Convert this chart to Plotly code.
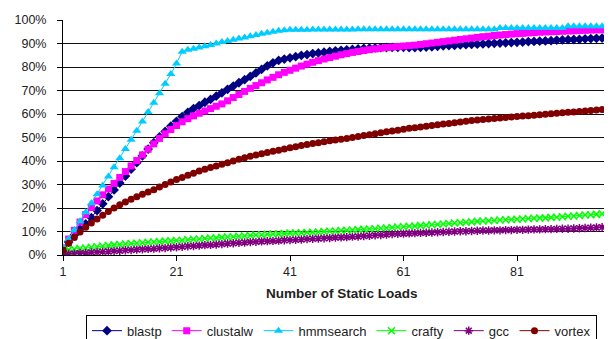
import plotly.graph_objects as go

loads = list(range(1, 101))

blastp = [2.5, 5.5, 8.5, 11.0, 13.2, 15.9, 18.9, 21.8, 24.8, 27.7,
          30.6, 33.6, 36.5, 39.3, 42.2, 45.1, 47.8, 50.3, 52.6, 54.8,
          56.9, 58.9, 60.7, 62.3, 63.6, 65.0, 66.2, 67.6, 69.0, 70.5,
          71.9, 73.3, 74.6, 76.0, 77.5, 79.0, 80.5, 81.8, 82.8, 83.4,
          83.9, 84.4, 84.9, 85.3, 85.7, 86.0, 86.3, 86.6, 86.9, 87.1,
          87.3, 87.5, 87.7, 87.9, 88.0, 88.1, 88.2, 88.3, 88.4, 88.4,
          88.4, 88.3, 88.3, 88.4, 88.5, 88.6, 88.8, 89.0, 89.1, 89.2,
          89.4, 89.5, 89.6, 89.7, 89.8, 90.0, 90.1, 90.2, 90.3, 90.4,
          90.5, 90.6, 90.8, 90.9, 91.0, 91.1, 91.2, 91.4, 91.5, 91.6,
          91.7, 91.8, 92.0, 92.1, 92.2, 92.3, 92.4, 92.5, 92.6, 92.7]

clustalw = [3.0, 6.8, 10.5, 14.0, 17.2, 20.2, 23.0, 25.6, 28.1, 30.5,
            33.0, 35.5, 37.9, 40.2, 42.6, 45.0, 47.3, 49.6, 51.6, 53.4,
            55.1, 56.7, 58.0, 59.2, 60.3, 61.3, 62.3, 63.3, 64.3, 65.6,
            67.0, 68.3, 69.6, 70.9, 72.1, 73.3, 74.5, 75.6, 76.7, 77.7,
            78.6, 79.5, 80.4, 81.2, 82.0, 82.7, 83.4, 84.0, 84.6, 85.2,
            85.7, 86.2, 86.6, 87.0, 87.4, 87.7, 88.0, 88.3, 88.5, 88.7,
            88.9, 89.1, 89.3, 89.6, 89.9, 90.2, 90.5, 90.8, 91.1, 91.4,
            91.7, 92.0, 92.3, 92.6, 92.9, 93.1, 93.4, 93.6, 93.8, 94.0,
            94.2, 94.3, 94.5, 94.6, 94.8, 94.9, 95.0, 95.1, 95.2, 95.3,
            95.4, 95.5, 95.6, 95.7, 95.8, 95.8, 95.9, 96.0, 96.0, 96.1]

hmmsearch = [3.0, 6.8, 10.6, 14.4, 18.2, 22.0, 25.8, 29.6, 33.4, 37.3,
             41.2, 45.1, 49.0, 52.9, 56.8, 60.8, 64.8, 68.8, 72.9, 77.0,
             81.5, 86.5, 87.3, 87.8, 88.3, 88.8, 89.4, 90.0, 90.6, 91.1,
             91.6, 92.1, 92.6, 93.1, 93.6, 94.1, 94.6, 95.0, 95.4, 95.6,
             95.8, 95.9, 95.9, 95.9, 96.0, 96.0, 96.0, 96.0, 96.0, 96.0,
             96.0, 96.0, 96.1, 96.1, 96.1, 96.1, 96.1, 96.1, 96.1, 96.1,
             96.1, 96.1, 96.1, 96.1, 96.1, 96.1, 96.1, 96.1, 96.1, 96.1,
             96.1, 96.1, 96.1, 96.1, 96.1, 96.1, 96.1, 96.6, 96.6, 96.6,
             96.6, 96.6, 96.6, 96.6, 96.6, 96.6, 96.6, 96.6, 96.6, 97.3,
             97.3, 97.3, 97.3, 97.3, 97.3, 97.3, 97.3, 97.4, 97.4, 97.4]

crafty = [2.2, 2.3, 2.5, 2.8, 3.0, 3.3, 3.5, 3.8, 4.0, 4.3,
          4.5, 4.7, 4.9, 5.0, 5.2, 5.4, 5.5, 5.7, 5.9, 6.0,
          6.2, 6.3, 6.5, 6.7, 6.8, 7.0, 7.2, 7.3, 7.5, 7.7,
          7.8, 8.0, 8.1, 8.3, 8.5, 8.6, 8.8, 8.9, 9.0, 9.1,
          9.3, 9.4, 9.5, 9.6, 9.7, 9.8, 10.0, 10.1, 10.2, 10.4,
          10.5, 10.6, 10.8, 10.9, 11.1, 11.2, 11.4, 11.5, 11.7, 11.9,
          12.0, 12.2, 12.3, 12.5, 12.7, 12.9, 13.0, 13.2, 13.4, 13.6,
          13.7, 13.9, 14.1, 14.3, 14.5, 14.6, 14.7, 14.9, 15.0, 15.1,
          15.2, 15.3, 15.5, 15.6, 15.7, 15.8, 16.0, 16.1, 16.3, 16.5,
          16.6, 16.8, 17.0, 17.1, 17.3, 17.5, 17.7, 17.9, 18.0, 18.2]

gcc = [0.3, 0.5, 0.6, 0.8, 0.9, 1.1, 1.2, 1.4, 1.5, 1.7,
       1.8, 2.0, 2.1, 2.3, 2.4, 2.6, 2.7, 2.9, 3.0, 3.2,
       3.3, 3.5, 3.7, 3.8, 4.0, 4.2, 4.3, 4.5, 4.7, 4.9,
       5.0, 5.2, 5.3, 5.5, 5.6, 5.8, 5.9, 6.0, 6.1, 6.3,
       6.4, 6.5, 6.6, 6.8, 6.9, 7.0, 7.1, 7.2, 7.4, 7.5,
       7.6, 7.8, 7.9, 8.1, 8.2, 8.4, 8.5, 8.7, 8.9, 9.0,
       9.1, 9.2, 9.3, 9.4, 9.5, 9.6, 9.7, 9.8, 9.9, 10.0,
       10.1, 10.1, 10.2, 10.3, 10.4, 10.4, 10.5, 10.5, 10.6, 10.6,
       10.7, 10.7, 10.8, 10.9, 10.9, 11.0, 11.0, 11.1, 11.2, 11.2,
       11.3, 11.4, 11.5, 11.6, 11.7, 11.8, 11.9, 12.0, 12.0, 12.1]

vortex = [2.0, 5.0, 7.5, 9.8, 11.8, 13.6, 15.3, 16.9, 18.5, 20.0,
          21.4, 22.6, 23.7, 24.8, 25.8, 26.8, 27.8, 28.9, 30.0, 31.1,
          32.1, 33.0, 33.9, 34.8, 35.7, 36.5, 37.2, 37.9, 38.6, 39.3,
          40.0, 40.7, 41.4, 42.0, 42.6, 43.1, 43.6, 44.1, 44.6, 45.1,
          45.6, 46.1, 46.6, 47.0, 47.4, 47.8, 48.2, 48.6, 48.9, 49.3,
          49.6, 50.0, 50.4, 50.8, 51.2, 51.6, 52.0, 52.4, 52.8, 53.1,
          53.5, 53.9, 54.2, 54.5, 54.8, 55.1, 55.4, 55.7, 56.0, 56.3,
          56.6, 56.9, 57.2, 57.4, 57.7, 57.9, 58.1, 58.3, 58.5, 58.7,
          58.9, 59.1, 59.3, 59.5, 59.7, 59.9, 60.1, 60.3, 60.5, 60.7,
          60.9, 61.1, 61.3, 61.5, 61.7, 61.9, 62.1, 62.3, 62.5, 62.7]

x_ticks = [1, 21, 41, 61, 81]
y_ticks = [0, 10, 20, 30, 40, 50, 60, 70, 80, 90, 100]
y_labels = [f"{v}%" for v in y_ticks]

series = [
    ("blastp", blastp, "#000080", "diamond", 7.5),
    ("clustalw", clustalw, "#FF00FF", "square", 7),
    ("hmmsearch", hmmsearch, "#00CCFF", "triangle-up", 8),
    ("crafty", crafty, "#00FF00", "x-thin-open", 7),
    ("gcc", gcc, "#800080", "asterisk-open", 7),
    ("vortex", vortex, "#800000", "circle", 7),
]

fig = go.Figure()
for name, vals, color, sym, size in series:
    marker = dict(symbol=sym, size=size, color=color)
    if sym.endswith("-open"):
        marker["line"] = dict(color=color, width=1.5)
    else:
        marker["line"] = dict(width=0)
    fig.add_trace(go.Scatter(
        x=loads, y=vals, name=name, mode="lines+markers",
        line=dict(color=color, width=1), marker=marker,
    ))

font_family = "Arial, Liberation Sans, sans-serif"
plot_h = 339 - 12 - 83
fig.update_layout(
    width=612, height=339,
    margin=dict(l=55, r=0, t=12, b=83),
    paper_bgcolor="white", plot_bgcolor="white",
    font=dict(family=font_family, size=12, color="#222222"),
    showlegend=True,
    legend=dict(
        orientation="h", x=0.5, xanchor="center", y=(256 - 318) / plot_h,
        yanchor="top",
        bordercolor="#000000", borderwidth=1, bgcolor="white",
        font=dict(family=font_family, size=13, color="#222222"),
        itemwidth=30, tracegroupgap=0,
    ),
    xaxis=dict(
        range=[1, 99.15], tickmode="array", tickvals=x_ticks,
        ticktext=[str(t) for t in x_ticks],
        showgrid=False, zeroline=False,
        showline=True, linecolor="#000000", linewidth=1,
        ticks="outside", ticklen=5, tickcolor="#000000",
        tickfont=dict(size=12.5, color="#222222"),
    ),
    yaxis=dict(
        range=[0, 100], tickmode="array", tickvals=y_ticks, ticktext=y_labels,
        showgrid=True, gridcolor="#111111", gridwidth=1, zeroline=False,
        showline=True, linecolor="#000000", linewidth=1,
        ticks="outside", ticklen=5, tickcolor="#000000",
        tickfont=dict(size=12.5, color="#222222"),
        ticklabelstandoff=8,
    ),
    annotations=[dict(
        text="<b>Number of Static Loads</b>", x=0.5, xref="paper",
        y=(256 - 296) / plot_h, yref="paper", yanchor="middle",
        showarrow=False,
        font=dict(family=font_family, size=13.5, color="#222222"),
    )],
)

fig.write_html("out.html")
